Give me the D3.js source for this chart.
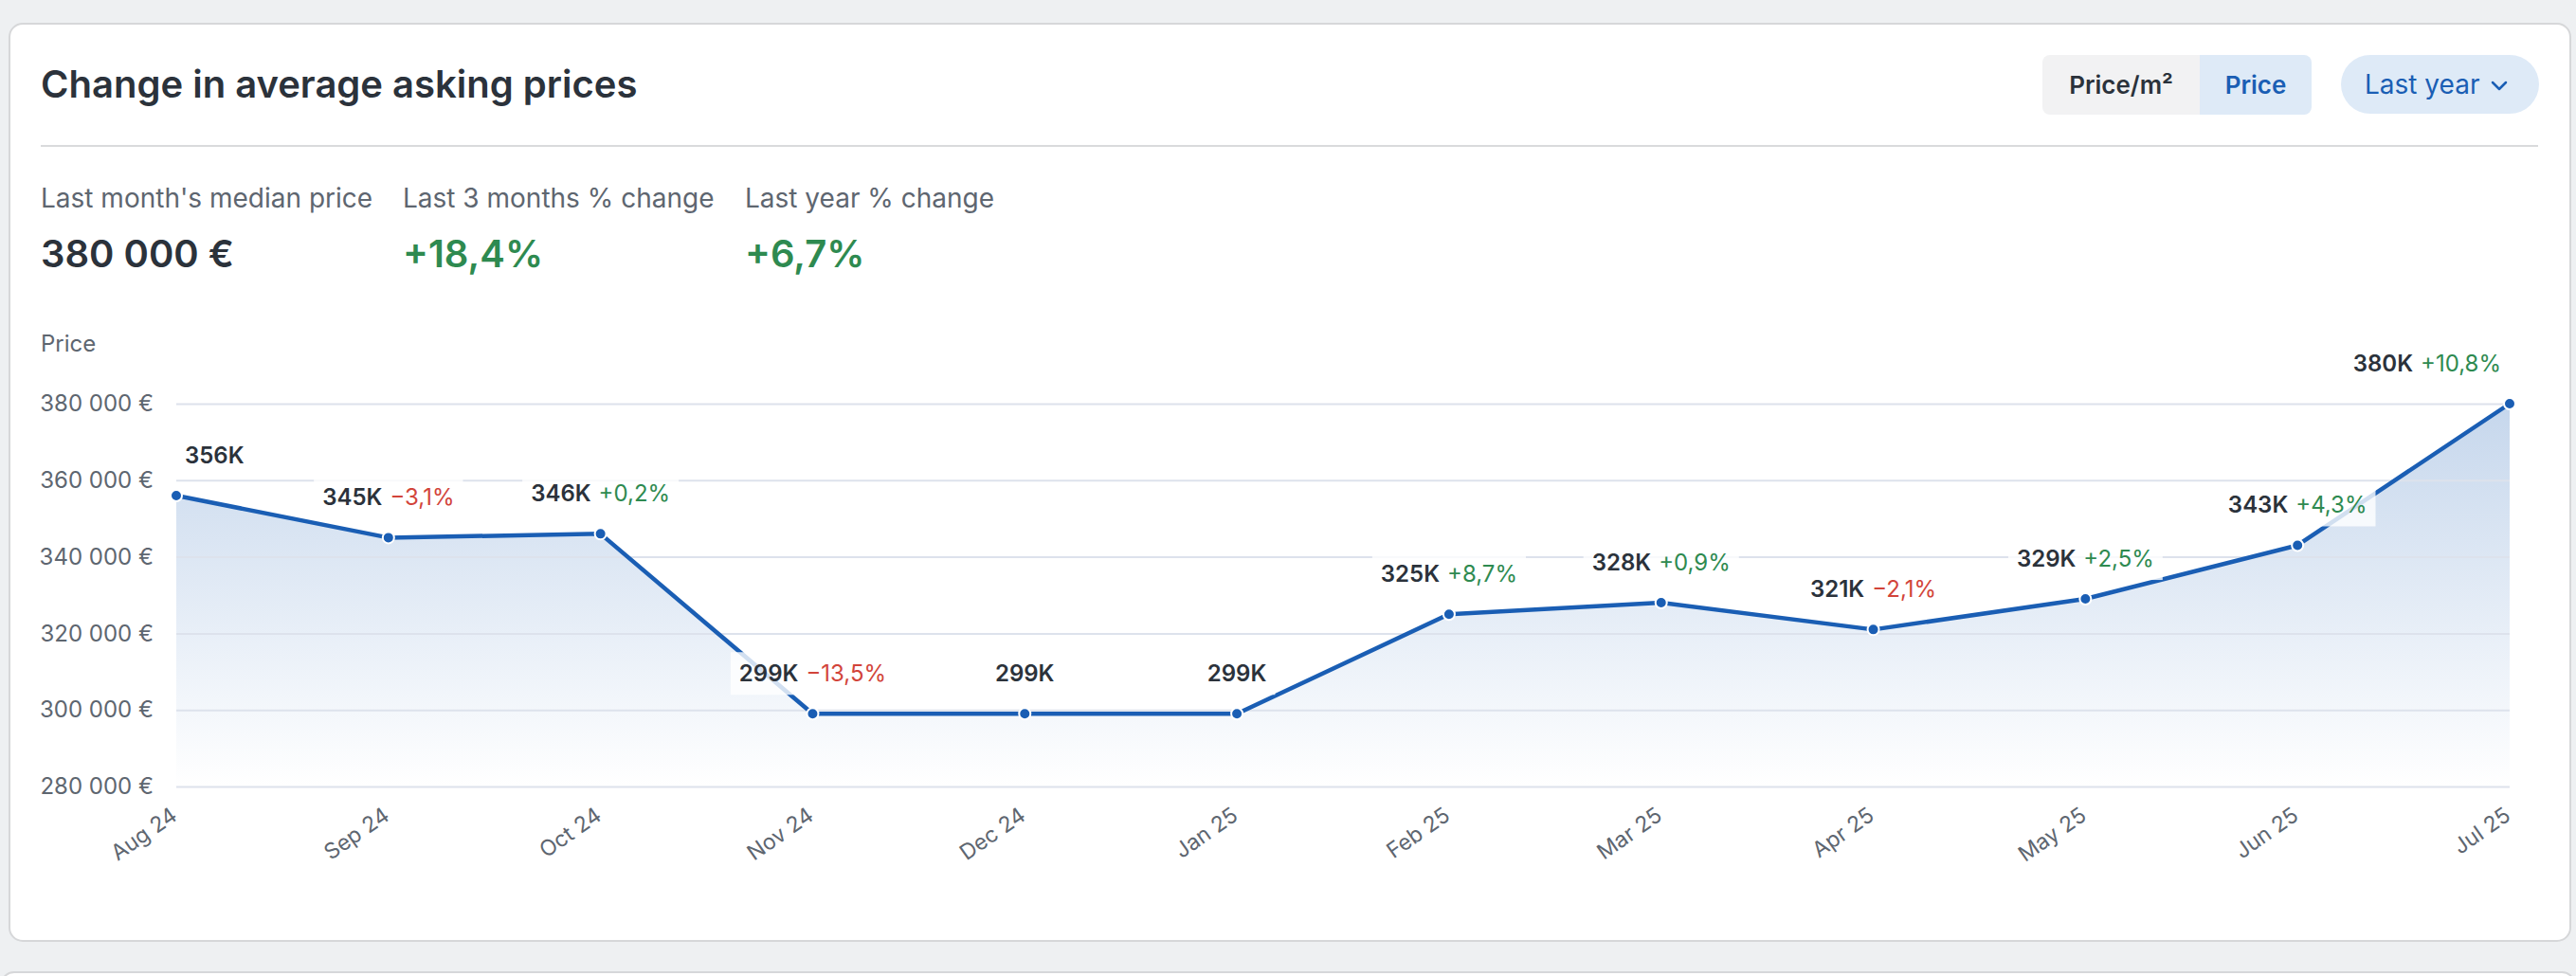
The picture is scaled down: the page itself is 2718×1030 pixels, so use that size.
<!DOCTYPE html>
<html>
<head>
<meta charset="utf-8">
<script src="https://cdn.jsdelivr.net/npm/d3@7"></script>
<style>
  html, body { margin: 0; padding: 0; background: #eef0f2; }
  svg { display: block; font-family: Inter, "Noto Sans", sans-serif; }
</style>
</head>
<body>
<div id="chart"></div>
<script>
// data
var months = ["Aug 24", "Sep 24", "Oct 24", "Nov 24", "Dec 24", "Jan 25",
              "Feb 25", "Mar 25", "Apr 25", "May 25", "Jun 25", "Jul 25"];
var prices = [356000, 345000, 346000, 299000, 299000, 299000,
              325000, 328000, 321000, 329000, 343000, 380000];
// month-on-month change in %, null where no change is shown
var changes = [null, -3.1, 0.2, -13.5, null, null, 8.7, 0.9, -2.1, 2.5, 4.3, 10.8];
var yTicks = [280000, 300000, 320000, 340000, 360000, 380000];

var statLabels = ["Last month's median price", "Last 3 months % change", "Last year % change"];
var statValues = ["380 000 €", "+18,4%", "+6,7%"];

var W = 2718, H = 1030;
var plot = { left: 186, right: 2648, top: 426, bottom: 830 };

var dark = "#2b323b", gray = "#5e6670", blue = "#1a5eb4",
    green = "#2e8a50", red = "#d2443a", grid = "#dde2ec";

var loc = d3.formatLocale({ decimal: ",", thousands: " ", grouping: [3],
                            currency: ["", " €"], minus: "\u2212" });
var fmtEuro = loc.format("$,.0f");
var fmtPct = function(v) { return loc.format("+.1f")(v) + "%"; };

var svg = d3.select("#chart").append("svg")
    .attr("width", W).attr("height", H);

// card (and top edge of the next one)
svg.append("rect").attr("x", 1).attr("y", 1030 - 4).attr("width", W - 2).attr("height", 40)
    .attr("rx", 14).attr("fill", "#fff").attr("stroke", "#d6d7d9").attr("stroke-width", 2);
svg.append("rect").attr("x", 10).attr("y", 25).attr("width", 2702).attr("height", 968)
    .attr("rx", 14).attr("fill", "#fff").attr("stroke", "#d6d7d9").attr("stroke-width", 2);

// header
svg.append("text").attr("x", 43).attr("y", 103)
    .attr("font-size", 40).attr("font-weight", 600).attr("fill", dark)
    .text("Change in average asking prices");

svg.append("line").attr("x1", 43).attr("x2", 2678).attr("y1", 154).attr("y2", 154)
    .attr("stroke", "#d9dadc").attr("stroke-width", 2);

// toggle Price/m² | Price
var seg = svg.append("g");
seg.append("clipPath").attr("id", "segclip").append("rect")
    .attr("x", 2155).attr("y", 58).attr("width", 284).attr("height", 63).attr("rx", 8);
var segIn = seg.append("g").attr("clip-path", "url(#segclip)");
segIn.append("rect").attr("x", 2155).attr("y", 58).attr("width", 166).attr("height", 63).attr("fill", "#f2f2f3");
segIn.append("rect").attr("x", 2321).attr("y", 58).attr("width", 118).attr("height", 63).attr("fill", "#deeaf7");
seg.append("text").attr("x", 2238).attr("y", 99).attr("text-anchor", "middle")
    .attr("font-size", 26).attr("font-weight", 600).attr("fill", dark).text("Price/m²");
seg.append("text").attr("x", 2380).attr("y", 99).attr("text-anchor", "middle")
    .attr("font-size", 26).attr("font-weight", 600).attr("fill", blue).text("Price");

// period pill
svg.append("rect").attr("x", 2470).attr("y", 58).attr("width", 209).attr("height", 62)
    .attr("rx", 31).attr("fill", "#deeaf7");
svg.append("text").attr("x", 2495).attr("y", 99)
    .attr("font-size", 28).attr("fill", blue).text("Last year");
svg.append("polyline").attr("points", "2630,87 2637,94 2644,87")
    .attr("fill", "none").attr("stroke", blue).attr("stroke-width", 2.5)
    .attr("stroke-linecap", "round").attr("stroke-linejoin", "round");

// stats row
var statX = [43, 425, 786];
statLabels.forEach(function(s, i) {
    svg.append("text").attr("x", statX[i]).attr("y", 219)
        .attr("font-size", 28).attr("fill", gray).text(s);
    svg.append("text").attr("x", statX[i]).attr("y", 282)
        .attr("font-size", 40).attr("font-weight", 600)
        .attr("fill", i === 0 ? dark : green).text(statValues[i]);
});

svg.append("text").attr("x", 43).attr("y", 371)
    .attr("font-size", 24).attr("fill", gray).text("Price");

// scales
var x = d3.scalePoint().domain(months).range([plot.left, plot.right]);
var y = d3.scaleLinear().domain([280000, 380000]).range([plot.bottom, plot.top]);

var data = months.map(function(m, i) {
    return { month: m, price: prices[i], change: changes[i] };
});

// area gradient
var grad = svg.append("defs").append("linearGradient").attr("id", "areaGrad")
    .attr("gradientUnits", "userSpaceOnUse")
    .attr("x1", 0).attr("x2", 0).attr("y1", plot.top).attr("y2", plot.bottom);
grad.append("stop").attr("offset", 0).attr("stop-color", blue).attr("stop-opacity", 0.25);
grad.append("stop").attr("offset", 1).attr("stop-color", blue).attr("stop-opacity", 0.0);

svg.append("path").datum(data)
    .attr("fill", "url(#areaGrad)")
    .attr("d", d3.area().x(d => x(d.month)).y0(plot.bottom).y1(d => y(d.price)));

// grid lines
svg.append("g")
    .attr("transform", `translate(${plot.left}, 0)`)
    .call(d3.axisLeft(y).tickValues(yTicks).tickSize(-(plot.right - plot.left)).tickFormat(""))
    .call(g => g.select(".domain").remove())
    .selectAll("line").attr("stroke", grid).attr("stroke-width", 2);

// y axis labels
svg.append("g")
    .attr("transform", `translate(${plot.left}, 0)`)
    .call(d3.axisLeft(y).tickValues(yTicks).tickSize(0).tickPadding(24).tickFormat(fmtEuro))
    .call(g => g.select(".domain").remove())
    .selectAll("text")
    .attr("font-family", "Inter, 'Noto Sans', sans-serif")
    .attr("font-size", 24).attr("fill", gray);

// x axis labels
svg.append("g")
    .attr("transform", `translate(0, ${plot.bottom})`)
    .call(d3.axisBottom(x).tickSize(0))
    .call(g => g.select(".domain").remove())
    .selectAll("text")
    .attr("font-family", "Inter, 'Noto Sans', sans-serif")
    .attr("font-size", 23).attr("fill", gray)
    .attr("x", 0).attr("y", 0).attr("dy", 0)
    .attr("text-anchor", "end")
    .attr("transform", "translate(2, 34) rotate(-35)");

// line
svg.append("path").datum(data)
    .attr("fill", "none").attr("stroke", blue).attr("stroke-width", 4.5)
    .attr("stroke-linejoin", "round")
    .attr("d", d3.line().x(d => x(d.month)).y(d => y(d.price)));

// point labels with white boxes
var pad = 9;
var labels = svg.append("g");
data.forEach(function(d) {
    var g = labels.append("g");
    var t = g.append("text").attr("font-size", 24).attr("y", 0);
    t.append("tspan").attr("font-weight", 600).attr("fill", dark)
        .text(Math.round(d.price / 1000) + "K");
    if (d.change !== null) {
        t.append("tspan").attr("dx", 8).attr("fill", d.change < 0 ? red : green)
            .text(fmtPct(d.change));
    }
    var w = t.node().getBBox().width;
    var px = x(d.month), base = y(d.price) - 34;
    var left = Math.max(plot.left + pad, Math.min(px - w / 2, plot.right - pad - w));
    g.insert("rect", "text")
        .attr("x", -pad).attr("y", -31).attr("width", w + 2 * pad).attr("height", 45)
        .attr("fill", "#fff").attr("fill-opacity", 0.8);
    g.attr("transform", `translate(${left}, ${base})`);
});

// points
svg.append("g").selectAll("circle")
    .data(data)
    .enter()
    .append("circle")
    .attr("cx", d => x(d.month))
    .attr("cy", d => y(d.price))
    .attr("r", 6)
    .attr("fill", blue)
    .attr("stroke", "#fff")
    .attr("stroke-width", 2);
</script>
</body>
</html>
